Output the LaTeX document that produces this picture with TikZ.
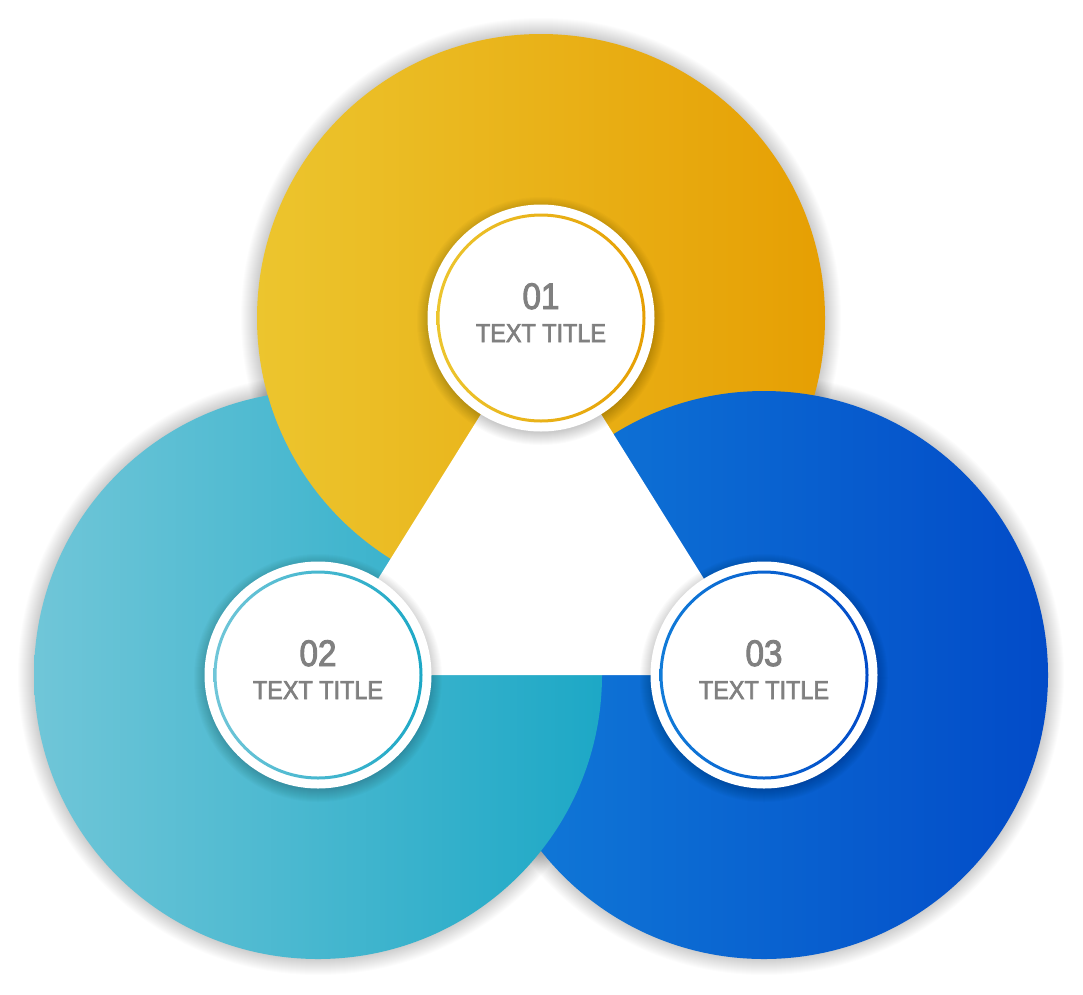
\documentclass[tikz,border=0pt]{standalone}
\usepackage{fontspec}
\setmainfont{Liberation Sans}
\newfontfamily\badgefont[FakeStretch=0.9, FakeBold=2.5]{Liberation Sans}
\usetikzlibrary{calc}
\definecolor{goldL}{HTML}{ECC52E}
\definecolor{goldR}{HTML}{E69F03}
\definecolor{tealL}{HTML}{70C6D8}
\definecolor{tealR}{HTML}{1DA8C6}
\definecolor{blueL}{HTML}{117BD8}
\definecolor{blueR}{HTML}{024BC8}
\definecolor{txtgray}{HTML}{808080}

\begin{document}
\begin{tikzpicture}[x=1pt, y=-1pt,
    haze/.style={fill=black, opacity=0.011},
    disc/.style={circle, inner sep=0pt, minimum size=568pt},
    badge/.style={circle, fill=white, inner sep=0pt, minimum size=227pt},
    numtxt/.style={text=txtgray, anchor=base, inner sep=0pt,
        font=\badgefont\fontsize{37}{37}\selectfont},
    titletxt/.style={text=txtgray, anchor=base, inner sep=0pt,
        font=\badgefont\fontsize{26}{26}\selectfont}]
  \useasboundingbox[fill=white] (0,0) rectangle (1083,994);
  \coordinate (p01) at (541,318);
  \coordinate (p02) at (318,675);
  \coordinate (p03) at (764,675);

  % soft shadows under the big discs
  \foreach \p in {p01,p02,p03}
    \foreach \k in {285,...,300}
      \fill[haze] (\p) circle (\k pt);

  % big discs: gold under blue, blue under teal, teal under gold
  \node (gold) [disc, left color=goldL, right color=goldR] at (p01) {};
  \node (navy) [disc, left color=blueL, right color=blueR] at (p03) {};
  \begin{scope}[even odd rule]
    \clip (0,0) rectangle (1083,994) (p01) circle (284pt);
    \node (teal) [disc, left color=tealL, right color=tealR] at (p02) {};
  \end{scope}

  \fill[white] (p01) -- (p02) -- (p03) -- cycle;

  % badges
  \foreach \i/\cl/\cr in {01/goldL/goldR, 02/tealL/tealR, 03/blueL/blueR} {
    \foreach \k in {112,...,124}
      \fill[haze, opacity=0.016] ($(p\i)+(0,3)$) circle (\k pt);
    \node (badge\i) [badge] at (p\i) {};
    \shade[left color=\cl, right color=\cr, even odd rule]
      (p\i) circle (104.5pt) circle (101.5pt);
    \node (num\i) [numtxt] at ($(p\i)+(0,-9)$) {\i};
    \node (title\i) [titletxt] at ($(p\i)+(0,24)$) {TEXT TITLE};
  }
\end{tikzpicture}
\end{document}
